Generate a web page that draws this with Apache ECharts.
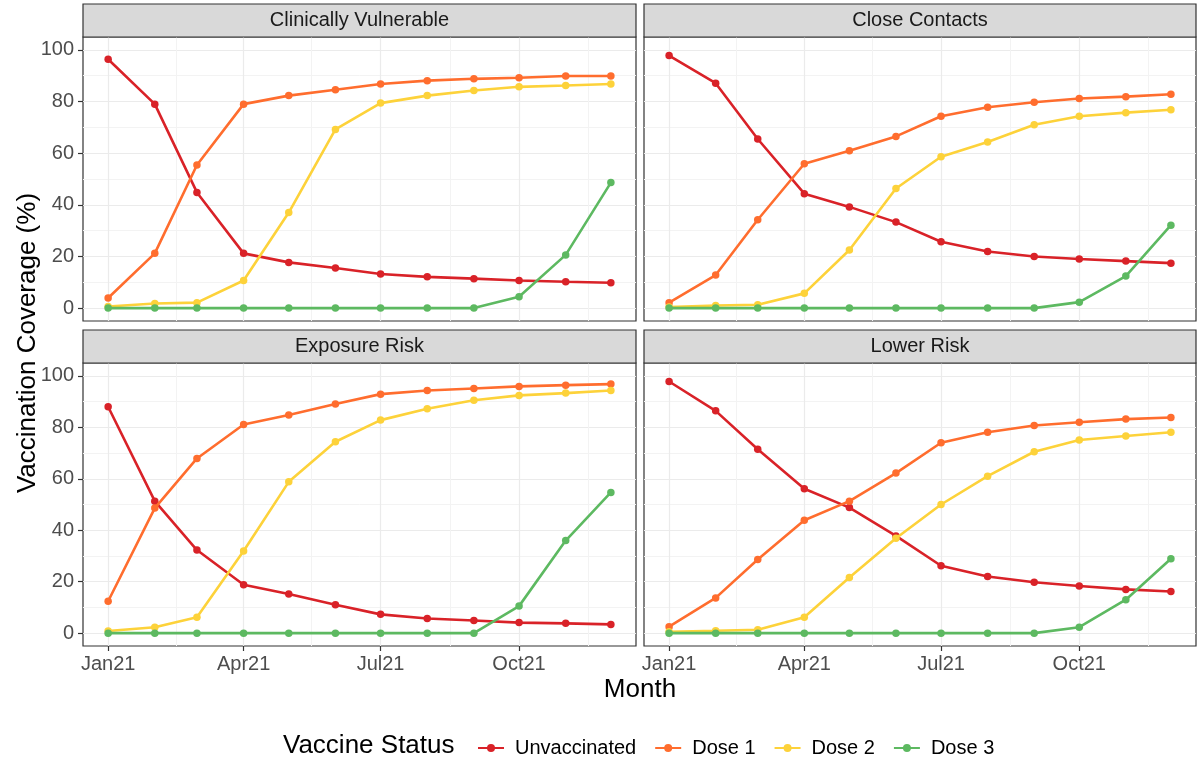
<!DOCTYPE html>
<html><head><meta charset="utf-8">
<script src="https://cdn.jsdelivr.net/npm/echarts@6/dist/echarts.min.js"></script>
<style>html,body{margin:0;padding:0;background:#fff}#c{width:1200px;height:762px}</style>
</head><body><div id="c"></div>
<script>
// ---------------- DATA ----------------
const months = ['2021-01-01','2021-02-01','2021-03-01','2021-04-01','2021-05-01','2021-06-01',
                '2021-07-01','2021-08-01','2021-09-01','2021-10-01','2021-11-01','2021-12-01'];
const facets = ['Clinically Vulnerable','Close Contacts','Exposure Risk','Lower Risk'];
const statuses = ['Unvaccinated','Dose 1','Dose 2','Dose 3'];

const cvUnvaccinated = [96.4,79.0,44.8,21.2,17.7,15.5,13.2,12.1,11.4,10.7,10.2,9.8];
const cvDose1        = [3.9,21.2,55.4,79.0,82.3,84.6,86.8,88.1,88.8,89.2,89.9,89.9];
const cvDose2        = [0.6,1.8,2.1,10.7,37.0,69.2,79.4,82.3,84.3,85.7,86.2,86.8];
const cvDose3        = [0,0,0,0,0,0,0,0,0,4.4,20.6,48.6];

const ccUnvaccinated = [97.8,87.1,65.5,44.3,39.2,33.3,25.7,21.9,20.0,19.0,18.2,17.4];
const ccDose1        = [2.1,12.8,34.2,55.9,60.9,66.5,74.3,77.8,79.7,81.2,81.9,82.8];
const ccDose2        = [0.4,1.0,1.3,5.7,22.5,46.3,58.6,64.3,71.0,74.3,75.7,76.8];
const ccDose3        = [0,0,0,0,0,0,0,0,0,2.3,12.4,32.1];

const erUnvaccinated = [88.0,51.3,32.3,18.8,15.2,11.0,7.3,5.7,4.9,4.1,3.8,3.4];
const erDose1        = [12.4,48.6,67.9,81.1,84.8,89.1,92.9,94.3,95.1,95.9,96.4,96.8];
const erDose2        = [0.8,2.3,6.2,31.9,58.8,74.4,82.8,87.2,90.5,92.4,93.3,94.3];
const erDose3        = [0,0,0,0,0,0,0,0,0,10.5,36.0,54.7];

const lrUnvaccinated = [97.8,86.4,71.5,56.1,48.8,37.8,26.2,22.0,19.8,18.3,17.0,16.2];
const lrDose1        = [2.5,13.7,28.6,43.9,51.3,62.2,74.0,78.1,80.7,82.0,83.2,83.8];
const lrDose2        = [0.5,0.9,1.3,6.2,21.6,36.9,50.0,61.0,70.5,75.1,76.6,78.1];
const lrDose3        = [0,0,0,0,0,0,0,0,0,2.3,13.0,28.9];

const xTickDates  = ['2021-01-01','2021-04-01','2021-07-01','2021-10-01'];
const xTickLabels = ['Jan21','Apr21','Jul21','Oct21'];
const xMinorDates = ['2021-02-15','2021-05-16','2021-08-16','2021-11-16'];
const yTicks = [0,20,40,60,80,100];
const yMinor = [10,30,50,70,90];

// ---------------- BUILD ----------------
const facetData = [
  [cvUnvaccinated, cvDose1, cvDose2, cvDose3],
  [ccUnvaccinated, ccDose1, ccDose2, ccDose3],
  [erUnvaccinated, erDose1, erDose2, erDose3],
  [lrUnvaccinated, lrDose1, lrDose2, lrDose3]
];
const colors = ['#D92228','#FF6D2E','#FDD23A','#5DB961'];
const FONT = 'Liberation Sans, Arial, sans-serif';

const t0 = Date.parse(months[0]);
const day = d => (Date.parse(d) - t0) / 86400000;
const xDays = months.map(day);
const span = xDays[xDays.length - 1] - xDays[0];
const xMin = xDays[0] - 0.05 * span, xMax = xDays[xDays.length - 1] + 0.05 * span;
const majorDays = xTickDates.map(day);
const minorDays = xMinorDates.map(day);

const panels = [
  {left: 83,  top: 37,  width: 553, height: 284},
  {left: 644, top: 37,  width: 552, height: 284},
  {left: 83,  top: 363, width: 553, height: 283},
  {left: 644, top: 363, width: 552, height: 283}
];
const stripH = 33;

const grid = [], xAxis = [], yAxis = [], series = [], graphic = [];
panels.forEach((p, i) => {
  const bottomRow = i >= 2, leftCol = i % 2 === 0;
  grid.push({left: p.left, top: p.top, width: p.width, height: p.height,
             show: true, borderColor: '#333333', borderWidth: 1.2, backgroundColor: '#fff', containLabel: false});
  // minor grid x
  xAxis.push({type: 'value', gridIndex: i, min: xMin, max: xMax, position: 'bottom',
    axisLine: {show: false, onZero: false}, axisLabel: {show: false},
    axisTick: {show: false, customValues: minorDays},
    splitLine: {show: true, lineStyle: {color: '#F3F3F3', width: 1}}});
  // major grid x + ticks/labels
  xAxis.push({type: 'value', gridIndex: i, min: xMin, max: xMax, position: 'bottom',
    axisLine: {show: false, onZero: false},
    axisTick: {show: bottomRow, inside: false, customValues: majorDays, length: 5, lineStyle: {color: '#333333', width: 1.2}},
    axisLabel: {show: bottomRow, customValues: majorDays, margin: 8, color: '#4D4D4D', fontSize: 20, fontFamily: FONT,
      formatter: v => { const k = majorDays.findIndex(m => Math.abs(m - v) < 0.01); return k >= 0 ? xTickLabels[k] : ''; }},
    splitLine: {show: true, lineStyle: {color: '#EBEBEB', width: 1.2}}});
  yAxis.push({type: 'value', gridIndex: i, min: -5, max: 105, position: 'left',
    axisLine: {show: false, onZero: false}, axisLabel: {show: false},
    axisTick: {show: false, customValues: yMinor},
    splitLine: {show: true, lineStyle: {color: '#F3F3F3', width: 1}}});
  yAxis.push({type: 'value', gridIndex: i, min: -5, max: 105, position: 'left',
    axisLine: {show: false, onZero: false},
    axisTick: {show: leftCol, inside: false, customValues: yTicks, length: 5, lineStyle: {color: '#333333', width: 1.2}},
    axisLabel: {show: leftCol, customValues: yTicks, margin: 9, color: '#4D4D4D', fontSize: 20, fontFamily: FONT},
    splitLine: {show: true, lineStyle: {color: '#EBEBEB', width: 1.2}}});

  facetData[i].forEach((vals, s) => {
    series.push({type: 'line', name: statuses[s], xAxisIndex: 2 * i, yAxisIndex: 2 * i,
      data: vals.map((v, k) => [xDays[k], v]),
      color: colors[s], symbol: 'circle', symbolSize: 7.5, showSymbol: true,
      lineStyle: {width: 2.6, color: colors[s]}, itemStyle: {color: colors[s]},
      emphasis: {disabled: true}, animation: false, z: 3 + s});
  });

  // strip
  graphic.push({type: 'rect', shape: {x: p.left, y: p.top - stripH, width: p.width, height: stripH},
    style: {fill: '#D9D9D9', stroke: '#333333', lineWidth: 1.2}, z: 10});
  graphic.push({type: 'text', x: p.left + p.width / 2, y: p.top - stripH / 2,
    style: {text: facets[i], fill: '#1A1A1A', font: '20px ' + FONT, align: 'center', verticalAlign: 'middle'}, z: 11});
});

graphic.push({type: 'text', x: 28, y: 343, rotation: Math.PI / 2,
  style: {text: 'Vaccination Coverage (%)', fill: '#000', font: '26px ' + FONT, align: 'center', verticalAlign: 'middle'}});
graphic.push({type: 'text', x: 640, y: 690,
  style: {text: 'Month', fill: '#000', font: '26px ' + FONT, align: 'center', verticalAlign: 'middle'}});
graphic.push({type: 'text', x: 283, y: 746,
  style: {text: 'Vaccine Status', fill: '#000', font: '26px ' + FONT, align: 'left', verticalAlign: 'middle'}});

const chart = echarts.init(document.getElementById('c'));
chart.setOption({
  animation: false,
  backgroundColor: '#fff',
  grid, xAxis, yAxis, series, graphic,
  legend: {data: statuses, left: 472, top: 733, itemWidth: 26, itemHeight: 10, itemGap: 18,
    textStyle: {fontSize: 20, color: '#000', fontFamily: FONT, padding: [0, 0, 0, 6]}, selectedMode: false}
});
</script></body></html>
